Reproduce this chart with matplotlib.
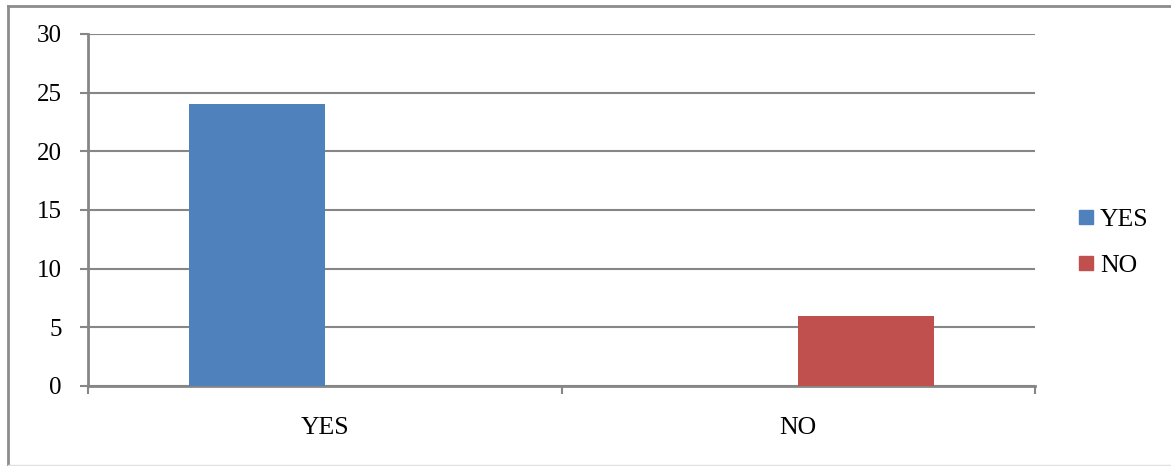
import matplotlib
matplotlib.use("Agg")
import matplotlib.pyplot as plt
from matplotlib.lines import Line2D
import numpy as np

categories = ["YES", "NO"]
series_names = ["YES", "NO"]
yes_values = [24, 0]
no_values = [0, 6]
y_ticks = [0, 5, 10, 15, 20, 25, 30]

colors = ["#4F81BD", "#C0504D"]
grid_color = "#868686"

plt.rcParams['font.family'] = ['Liberation Serif', 'DejaVu Serif']

W, H = 1171, 466
fig = plt.figure(figsize=(W / 100, H / 100), dpi=100)
ax = fig.add_axes([88 / W, (H - 386) / H, (1035 - 88) / W, (386 - 34) / H])

x = np.arange(len(categories))
bw = 1 / 3.5
ax.bar(x - bw / 2, yes_values, width=bw, color=colors[0], zorder=3)
ax.bar(x + bw / 2, no_values, width=bw, color=colors[1], zorder=3)

ax.set_xlim(-0.5, len(categories) - 0.5)
ax.set_ylim(0, 30)
ax.set_yticks(y_ticks)
ax.set_yticklabels([str(t) for t in y_ticks], fontsize=18)
ax.yaxis.grid(True, color=grid_color, linewidth=1.5, zorder=0)
ax.set_axisbelow(True)

# category boundary ticks (major), labels at centers (minor)
ax.set_xticks(np.arange(-0.5, len(categories), 1.0))
ax.set_xticklabels([])
ax.set_xticks(x, minor=True)
ax.set_xticklabels(categories, minor=True, fontsize=18.5)
ax.tick_params(axis='x', which='major', length=6, width=1.5, color=grid_color, direction='out')
ax.tick_params(axis='x', which='minor', length=0, pad=22)
ax.tick_params(axis='y', length=6, width=1.5, color=grid_color, pad=13)

for s in ['top', 'right']:
    ax.spines[s].set_visible(False)
for s in ['left', 'bottom']:
    ax.spines[s].set_color(grid_color)
    ax.spines[s].set_linewidth(2)

handles = [Line2D([], [], marker='s', linestyle='none', markersize=10.5,
                  markerfacecolor=c, markeredgecolor=c) for c in colors]
fig.legend(handles, series_names, loc='upper left',
           bbox_to_anchor=(1068 / W, 1 - 198 / H), frameon=False,
           fontsize=18.5, handlelength=0.6, handletextpad=0.25,
           labelspacing=0.9, borderaxespad=0)

# outer chart border
fig.add_artist(Line2D([8 / W, 8 / W], [1 - 6 / H, 1 - 465 / H], color="#8C8C8C", linewidth=2))
fig.add_artist(Line2D([8 / W, 1.0], [1 - 6 / H, 1 - 6 / H], color="#8C8C8C", linewidth=2))
fig.add_artist(Line2D([8 / W, 1.0], [1 - 465 / H, 1 - 465 / H], color="#E0E0E0", linewidth=1))

fig.savefig("out.png", dpi=100)
